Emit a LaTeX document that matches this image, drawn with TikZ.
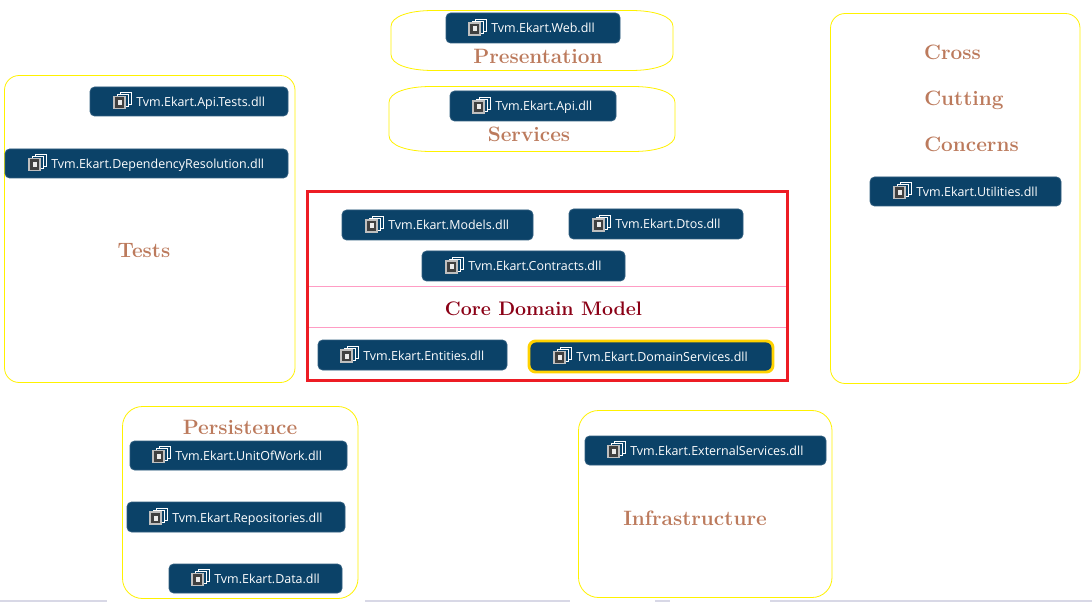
\documentclass[tikz,border=0pt]{standalone}
\usepackage{fontspec}
\newfontfamily\uifont{Open Sans}
\definecolor{navy}{HTML}{0B4268}
\definecolor{frameyellow}{HTML}{FFF200}
\definecolor{labelbrown}{HTML}{BC7A5C}
\definecolor{coremaroon}{HTML}{8B0016}
\definecolor{redframe}{HTML}{ED1C24}
\definecolor{pinkline}{HTML}{FF9CC4}
\definecolor{gold}{HTML}{FFD200}
\definecolor{shadowgrey}{HTML}{D8D8E6}
\tikzset{
  x=0.75pt,y=-0.75pt,
  dllbox/.style={draw=navy!85!white,line width=0.6pt,fill=navy,rounded corners=3.5pt,inner sep=0pt},
  dlltext/.style={text=white,font=\uifont\fontsize{9.35pt}{11pt}\selectfont,inner sep=0pt,anchor=base west},
  layerframe/.style={draw=frameyellow,line width=0.6pt,rounded corners=11pt},
  lowerframe/.style={layerframe,rounded corners=15pt},
  layerlabel/.style={text=labelbrown,font=\bfseries\fontsize{15.6pt}{18pt}\selectfont,inner sep=0pt},
  corelabel/.style={text=coremaroon,font=\bfseries\fontsize{14.7pt}{18pt}\selectfont,inner sep=0pt},
  pics/dllicon/.style={code={
    \draw[white,line width=0.5pt,fill=navy] (6,-9) rectangle (17,3);
    \draw[white,line width=0.5pt,fill=navy] (3,-7) rectangle (14,5);
    \draw[white!75!black,line width=0.8pt,fill=white!25!black] (0,-5) rectangle (11,7);
    \fill[white!92!black] (3.5,-1.5) rectangle (7.5,3.5);
  }}
}
% x0, y0, x1, y1, text x, text
\newcommand{\dll}[7][]{%
  \node[dllbox,#1,minimum width={(#4-#2)*0.75pt},minimum height={(#5-#3)*0.75pt}] (#2box#3) at ({(#2+#4)/2},{(#3+#5)/2}) {};
  \pic at (#6-22,{(#3+#5)/2}) {dllicon};
  \node[dlltext] (#2txt#3) at (#6,{(#3+#5)/2+5}) {#7};
}
\newcommand{\lens}[4]{%
  \draw[draw=frameyellow,line width=0.6pt] (#1,{(#2+#4)/2})
    -- (#1,#2+16) .. controls (#1,#2+6) and (#1+18,#2) .. (#1+42,#2) -- (#3-42,#2)
    .. controls (#3-18,#2) and (#3,#2+6) .. (#3,#2+16) -- (#3,#4-16)
    .. controls (#3,#4-6) and (#3-18,#4) .. (#3-42,#4) -- (#1+42,#4)
    .. controls (#1+18,#4) and (#1,#4-6) .. (#1,#4-16) -- cycle;
}
\begin{document}
\begin{tikzpicture}
\useasboundingbox (0,0) rectangle (1092,602);
\fill[white] (0,0) rectangle (1092,602);
% bottom strip
\fill[shadowgrey] (0,600) rectangle (107,602);
\fill[shadowgrey] (365,600) rectangle (570,602);
\fill[shadowgrey] (655,600) rectangle (670,602);
\fill[shadowgrey] (770,600) rectangle (1092,602);
% layer frames
\lens{391}{10.5}{673}{70.5}
\lens{389}{86.5}{675}{151.5}
\draw[layerframe] (4.5,75.5) rectangle (295,382.5);
\draw[layerframe] (830.5,13.5) rectangle (1080,383.5);
\draw[lowerframe] (122.5,406.5) rectangle (358,598.5);
\draw[lowerframe] (578.5,410.5) rectangle (832,597.5);
% core
\draw[pinkline,line width=0.75pt] (307,286.5) -- (788,286.5);
\draw[pinkline,line width=0.75pt] (307,327.5) -- (788,327.5);
\draw[redframe,line width=2.2pt] (307.5,191.5) rectangle (787.5,380.5);
% dll boxes
\dll{446}{13}{620}{43}{491}{Tvm.Ekart.Web.dll}
\dll{450}{91}{616}{121}{495}{Tvm.Ekart.Api.dll}
\dll{90}{87}{288}{116}{136}{Tvm.Ekart.Api.Tests.dll}
\dll{5}{149}{288}{178}{51}{Tvm.Ekart.DependencyResolution.dll}
\dll{870}{177}{1061}{206}{916}{Tvm.Ekart.Utilities.dll}
\dll{342}{210}{533}{240}{388}{Tvm.Ekart.Models.dll}
\dll{569}{209}{743}{239}{615}{Tvm.Ekart.Dtos.dll}
\dll{422}{251}{625}{281}{468}{Tvm.Ekart.Contracts.dll}
\dll{318}{340}{507}{370}{363}{Tvm.Ekart.Entities.dll}
\dll[draw=gold,line width=2.2pt,rounded corners=5pt]{529}{341}{773}{372}{576}{Tvm.Ekart.DomainServices.dll}
\dll{130}{441}{347}{470}{175}{Tvm.Ekart.UnitOfWork.dll}
\dll{127}{502}{345}{532}{172}{Tvm.Ekart.Repositories.dll}
\dll{169}{564}{342}{593}{214}{Tvm.Ekart.Data.dll}
\dll{585}{436}{826}{465}{630}{Tvm.Ekart.ExternalServices.dll}
% labels
\node[layerlabel] (presentation) at (538,56.5) {Presentation};
\node[layerlabel] (services) at (529,134.5) {Services};
\node[layerlabel] (tests) at (144,250.5) {Tests};
\node[layerlabel] (cross) at (952.5,52.5) {Cross};
\node[layerlabel] (cutting) at (964,100) {Cutting};
\node[layerlabel] (concerns) at (971.5,144.5) {Concerns};
\node[layerlabel] (persistence) at (240,427.5) {Persistence};
\node[layerlabel] (infrastructure) at (695,518.5) {Infrastructure};
\node[corelabel] (core) at (543.5,308.5) {Core Domain Model};
\end{tikzpicture}
\end{document}
